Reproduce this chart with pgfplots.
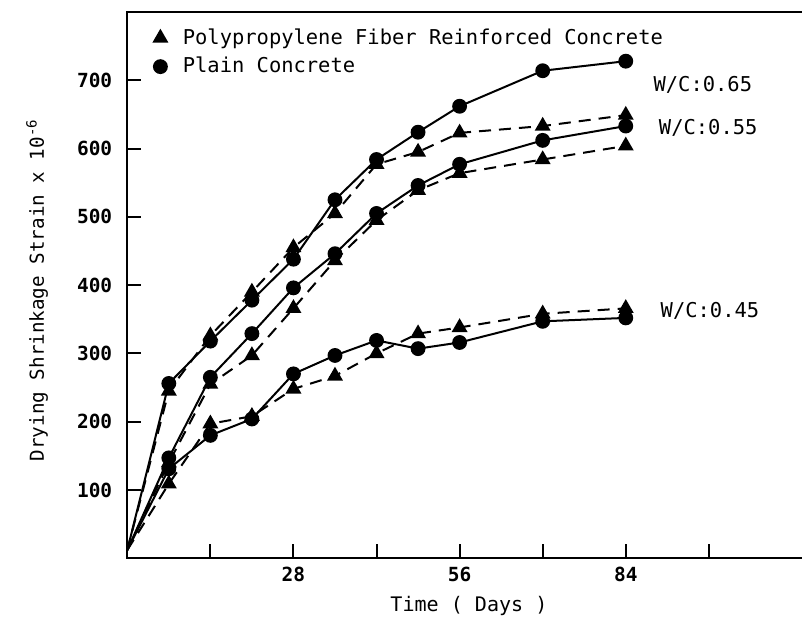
\documentclass[border=0pt]{standalone}
\usepackage{fontspec}
\setmainfont{DejaVu Sans Mono}
\usepackage{pgfplots}
\pgfplotsset{compat=1.18}

% Drying shrinkage strain (x 10^-6) against age in days
% Fibre-reinforced mixes: triangles, dashed; plain mixes: circles, solid
\begin{document}
\begin{tikzpicture}
\begin{axis}[
  scale only axis, width=337.5pt, height=272.5pt,
  xmin=0, xmax=114, ymin=0, ymax=800,
  clip=false,
  axis line style={line width=1.2pt},
  xtick={14,28,...,98}, xticklabels={,28,,56,,84,},
  ytick={100,200,...,700},
  xtick pos=bottom, ytick pos=left,
  tick align=inside, major tick length=7pt,
  tick style={line width=1pt, black},
  /pgf/number format/assume math mode=true,
  tick label style={font=\bfseries\fontsize{9.7}{11}\selectfont},
  xticklabel style={yshift=-1pt},
  yticklabel style={xshift=-4pt},
  every axis y label/.style={at={(axis description cs:-0.1333,0.49)}, rotate=90, anchor=center},
  every axis x label/.style={at={(axis description cs:0.505,-0.088)}, anchor=center},
  ylabel={\fontsize{9.6}{11}\selectfont Drying Shrinkage Strain x 10\raisebox{0.7ex}{\fontsize{7}{8}\selectfont -6}},
  xlabel={\fontsize{10}{11}\selectfont Time ( Days )},
  legend style={at={(axis description cs:0.03,0.985)}, anchor=north west,
    draw=none, fill=none, font=\fontsize{10.2}{12}\selectfont, row sep=1pt},
  legend cell align=left,
  legend image code/.code={\draw[#1] plot coordinates {(0.25cm,0cm)};},
  every axis plot/.append style={black, line width=1pt},
]
\addlegendimage{only marks, mark=triangle*, mark size=3.6pt}
\addlegendentry{\hspace{6pt}Polypropylene Fiber Reinforced Concrete}
\addlegendimage{only marks, mark=*, mark size=3.2pt}
\addlegendentry{\hspace{6pt}Plain Concrete}

% fibre reinforced, W/C 0.65
\addplot[dashed, dash pattern=on 6pt off 4pt, mark=triangle*, mark size=3.6pt, mark options={solid}, mark indices={2,3,4,5,6,7,8,9,10,11}] coordinates {
  (0,12) (7,245) (14,326) (21,390) (28,455) (35,505) (42,577) (49,595) (56,623) (70,633) (84,649)};
% fibre reinforced, W/C 0.55
\addplot[dashed, dash pattern=on 6pt off 4pt, mark=triangle*, mark size=3.6pt, mark options={solid}, mark indices={2,3,4,5,6,7,8,9,10,11}] coordinates {
  (0,12) (7,140) (14,255) (21,297) (28,366) (35,436) (42,495) (49,539) (56,564) (70,584) (84,604)};
% fibre reinforced, W/C 0.45
\addplot[dashed, dash pattern=on 6pt off 4pt, mark=triangle*, mark size=3.6pt, mark options={solid}, mark indices={2,3,4,5,6,7,8,9,10,11}] coordinates {
  (0,12) (7,109) (14,197) (21,208) (28,248) (35,267) (42,300) (49,329) (56,338) (70,358) (84,366)};
% plain, W/C 0.65
\addplot[solid, mark=*, mark size=3.2pt, mark indices={2,3,4,5,6,7,8,9,10,11}] coordinates {
  (0,12) (7,256) (14,318) (21,378) (28,438) (35,525) (42,584) (49,624) (56,662) (70,714) (84,728)};
% plain, W/C 0.55
\addplot[solid, mark=*, mark size=3.2pt, mark indices={2,3,4,5,6,7,8,9,10,11}] coordinates {
  (0,12) (7,147) (14,265) (21,329) (28,396) (35,446) (42,505) (49,546) (56,577) (70,612) (84,633)};
% plain, W/C 0.45
\addplot[solid, mark=*, mark size=3.2pt, mark indices={2,3,4,5,6,7,8,9,10,11}] coordinates {
  (0,12) (7,131) (14,180) (21,204) (28,270) (35,297) (42,319) (49,307) (56,316) (70,347) (84,352)};

\node[anchor=west, font=\fontsize{10.2}{12}\selectfont] at (axis cs:87.5,693) {W/C:0.65};
\node[anchor=west, font=\fontsize{10.2}{12}\selectfont] at (axis cs:88.4,630) {W/C:0.55};
\node[anchor=west, font=\fontsize{10.2}{12}\selectfont] at (axis cs:88.7,363) {W/C:0.45};

\coordinate (O) at (rel axis cs:0,0);
\coordinate (TL) at (rel axis cs:0,1);
\coordinate (TR) at (rel axis cs:1,1);
\end{axis}
% top edge of the frame
\draw[line width=1.3pt, black] (TL) -- (TR);
% the frame runs on past the right edge of the page
\pgfresetboundingbox
\path[use as bounding box] ([shift={(-63.5pt,-29pt)}]O) rectangle ([shift={(336.6pt,278.5pt)}]O);
\end{tikzpicture}
\end{document}
